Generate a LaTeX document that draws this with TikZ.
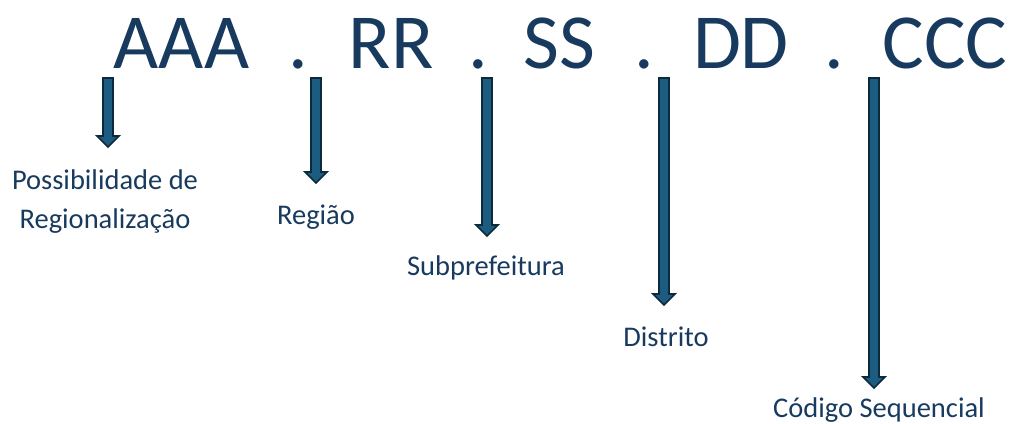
\documentclass[tikz,border=0pt]{standalone}
\usepackage{fontspec}
\setmainfont{Carlito}
\definecolor{txtblue}{RGB}{23,58,94}
\definecolor{arrfill}{RGB}{28,92,128}
\definecolor{arrline}{RGB}{12,42,60}
\tikzset{
  title/.style={font=\fontsize{78}{80}\selectfont, text=txtblue, inner sep=0pt, anchor=base},
  lbl/.style={font=\fontsize{28.5}{39}\selectfont, text=txtblue, inner sep=0pt, anchor=base, align=center},
  blockarrow/.style={fill=arrfill, draw=arrline, line width=1.6pt, line join=miter}
}
\newcommand{\blkarrow}[3]{%
  \draw[blockarrow] (#1-5,#2) -- (#1+5,#2) -- (#1+5,#3-11) -- (#1+11,#3-11) -- (#1,#3) -- (#1-11,#3-11) -- (#1-5,#3-11) -- cycle;}
\begin{document}
\begin{tikzpicture}[x=1pt,y=-1pt]
\useasboundingbox (0,0) rectangle (1011,423);
\node[title] (a) at (181.5,68) {AAA};
\node[title] (d1) at (298,68) {.};
\node[title] (r) at (391,68) {RR};
\node[title] (d2) at (478,68) {.};
\node[title] (s) at (559.5,68) {SS};
\node[title] (d3) at (644.5,68) {.};
\node[title] (d) at (741,68) {DD};
\node[title] (d4) at (834,68) {.};
\node[title] (c) at (945,68) {CCC};
\blkarrow{108}{78}{147}
\blkarrow{316}{78}{183}
\blkarrow{487}{78}{236}
\blkarrow{664}{78}{305}
\blkarrow{874}{78}{388}
\node[lbl] (la) at (105,189.5) {Possibilidade de};
\node[lbl] (la2) at (105,228) {Regionalização};
\node[lbl] (lr) at (316,224) {Região};
\node[lbl] (ls) at (486,275) {Subprefeitura};
\node[lbl] (ld) at (666,346) {Distrito};
\node[lbl] (lc) at (879,417) {Código Sequencial};
\end{tikzpicture}
\end{document}
